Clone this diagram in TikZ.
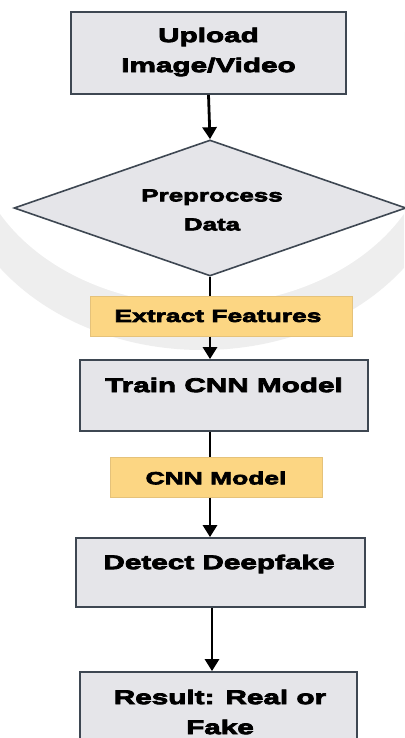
\documentclass[tikz,border=0pt]{standalone}
\usepackage{fontspec}
\newfontfamily\heavy{Liberation Sans}[FakeStretch=1.5, BoldFeatures={FakeBold=4}]
\usetikzlibrary{arrows.meta,shapes.geometric}
\definecolor{boxfill}{HTML}{E5E5E9}
\definecolor{boxline}{HTML}{3E4752}
\definecolor{yfill}{HTML}{FCD683}
\definecolor{yline}{HTML}{E5C27A}
\definecolor{wm}{HTML}{EEEEEE}
\begin{document}
\begin{tikzpicture}[x=1pt,y=-1pt,
  graybox/.style={draw=boxline, line width=1.8pt, fill=boxfill, rectangle, inner sep=0pt},
  yelbox/.style={draw=yline, line width=1pt, fill=yfill, rectangle, inner sep=0pt},
  lbl/.style={font=\heavy\bfseries\fontsize{19.8}{30}\selectfont, align=center, text=black},
  ylbl/.style={font=\heavy\bfseries\fontsize{17.6}{30}\selectfont, align=center, text=black},
  dlbl/.style={font=\heavy\bfseries\fontsize{17.3}{29}\selectfont, align=center, text=black},
  conn/.style={line width=2.8pt, draw=black},
  arr/.style={conn, -{Triangle[length=12pt,width=14pt]}}]
\useasboundingbox (0,0) rectangle (404,738);
\fill[white] (0,0) rectangle (404,738);
% faint watermark band
\begin{scope}
\clip (0,0) rectangle (404,738);
\fill[wm] (202,150) ellipse (250 and 200);
\fill[white] (202,130) ellipse (230 and 175);
\fill[white] (0,0) rectangle (404,60);
\end{scope}
% nodes
\node[graybox, minimum width=275, minimum height=82] (up) at (208.5,53) {};
\node[lbl] (uptxt) at (208.5,52) {Upload\\Image/Video};
\node[diamond, draw=boxline, line width=1.6pt, fill=boxfill, minimum width=392, minimum height=136, inner sep=0pt, aspect=2.88] (pre) at (210,208) {};
\node[dlbl] (pretxt) at (212,210) {Preprocess\\Data};
\node[yelbox, minimum width=262, minimum height=40] (ext) at (221,316) {};
\node[ylbl] (exttxt) at (218,316) {Extract Features};
\node[graybox, minimum width=288, minimum height=71] (train) at (224,395.5) {};
\node[lbl] (traintxt) at (224,385) {Train CNN Model};
\node[yelbox, minimum width=212, minimum height=40] (cnn) at (216,477) {};
\node[ylbl] (cnntxt) at (216,478) {CNN Model};
\node[graybox, minimum width=289, minimum height=69] (det) at (220.5,572.5) {};
\node[lbl] (dettxt) at (219,564) {Detect Deepfake};
\node[graybox, minimum width=277, minimum height=80] (res) at (218.5,712) {};
\node[lbl] (restxt) at (220,712) {Result: Real or\\Fake};
% connectors
\coordinate (c1) at (pre.south |- ext.north);
\coordinate (c2) at (pre.south |- ext.south);
\coordinate (c3) at (pre.south |- train.north);
\coordinate (c4) at (pre.south |- train.south);
\coordinate (c5) at (pre.south |- cnn.north);
\coordinate (c6) at (pre.south |- cnn.south);
\coordinate (c7) at (pre.south |- det.north);
\coordinate (c8) at ([xshift=2pt]pre.south |- det.south);
\coordinate (c9) at ([xshift=2pt]pre.south |- res.north);
\draw[arr] (up.south) -- (pre.north);
\draw[conn] (pre.south) -- (c1);
\draw[arr] (c2) -- (c3);
\draw[conn] (c4) -- (c5);
\draw[arr] (c6) -- (c7);
\draw[arr] (c8) -- (c9);
\end{tikzpicture}
\end{document}
